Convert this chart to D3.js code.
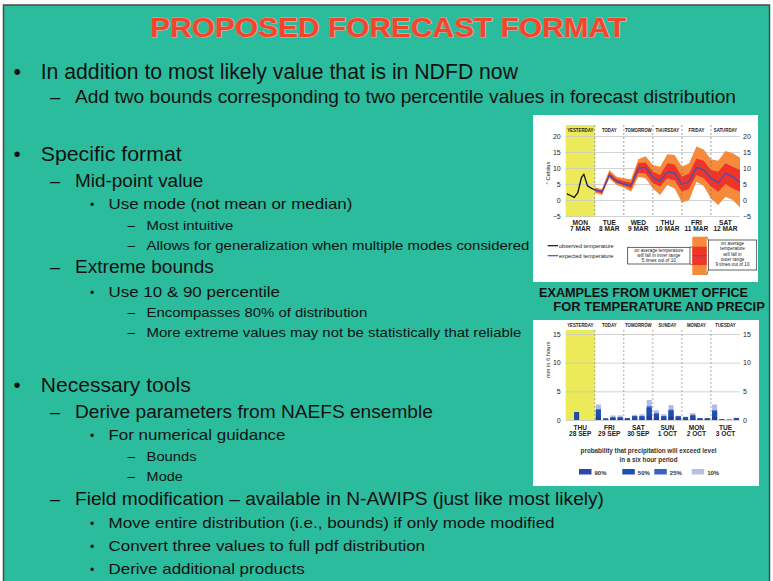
<!DOCTYPE html>
<html><head><meta charset="utf-8">
<script src="https://cdn.jsdelivr.net/npm/d3@7"></script>
<style>body{margin:0;background:#fff}svg{display:block}</style>
</head><body>
<svg id="c" width="773" height="581"></svg>
<script>
// ---------------- DATA ----------------
const slideTitle = "PROPOSED FORECAST FORMAT";
const bulletLevels = [1,2,1,2,3,4,4,2,3,4,4,1,2,3,4,4,2,3,3,3];
const bulletTexts = [
  "In addition to most likely value that is in NDFD now",
  "Add two bounds corresponding to two percentile values in forecast distribution",
  "Specific format",
  "Mid-point value",
  "Use mode (not mean or median)",
  "Most intuitive",
  "Allows for generalization when multiple modes considered",
  "Extreme bounds",
  "Use 10 & 90 percentile",
  "Encompasses 80% of distribution",
  "More extreme values may not be statistically that reliable",
  "Necessary tools",
  "Derive parameters from NAEFS ensemble",
  "For numerical guidance",
  "Bounds",
  "Mode",
  "Field modification \u2013 available in N-AWIPS (just like most likely)",
  "Move entire distribution (i.e., bounds) if only mode modified",
  "Convert three values to full pdf distribution",
  "Derive additional products"
];
const examplesCaption = ["EXAMPLES FROM UKMET OFFICE", "FOR TEMPERATURE AND PRECIP"];

// temperature chart
const tempHeaders = ["YESTERDAY","TODAY","TOMORROW","THURSDAY","FRIDAY","SATURDAY"];
const tempDays1 = ["MON","TUE","WED","THU","FRI","SAT"];
const tempDays2 = ["7 MAR","8 MAR","9 MAR","10 MAR","11 MAR","12 MAR"];
const tempTicks = [-5,0,5,10,15,20];
const obsHours = [1,4,7,10,13,15,18,21,24];
const obsTemp  = [1.9,1.4,0.8,2.3,7.0,8.0,4.4,3.7,3.2];
const fcHours   = [24,30,36,42,48,54,60,66,72,78,84,90,96,102,108,114,120,126,132,138,144];
const fcMode    = [3.1,2.6,7.8,5.8,5.0,4.5,9.9,10.2,7.0,5.9,8.8,8.5,4.9,5.7,10.2,9.4,6.8,5.4,8.3,7.3,5.5];
const fcInnerHi = [3.5,3.0,8.6,6.6,5.9,5.4,11.5,11.7,8.8,7.8,11.5,11.1,7.3,8.3,13.0,12.3,9.4,8.8,11.5,10.4,9.4];
const fcInnerLo = [2.8,2.0,7.2,5.3,4.5,3.6,8.4,8.3,5.2,4.2,6.8,6.2,2.6,3.6,7.8,6.8,4.2,2.6,5.0,3.6,2.6];
const fcOuterHi = [4.0,3.4,9.4,7.3,6.8,6.5,12.7,13.7,10.9,10.4,14.3,14.1,10.4,11.5,16.7,15.8,12.7,12.3,15.3,14.6,13.2];
const fcOuterLo = [2.3,1.6,6.8,4.7,3.9,2.6,7.3,6.8,3.6,1.6,4.7,3.6,-0.8,0.0,5.7,4.4,0.5,-1.6,1.0,0.0,-2.3];
const tempLegend = ["observed temperature","expected temperature"];
const innerNote = ["on average temperature","will fall in inner range","5 times out of 10"];
const outerNote = ["on average","temperature","will fall in","outer range","9 times out of 10"];

// precipitation chart
const pcpHeaders = ["YESTERDAY","TODAY","TOMORROW","SUNDAY","MONDAY","TUESDAY"];
const pcpDays1 = ["THU","FRI","SAT","SUN","MON","TUE"];
const pcpDays2 = ["28 SEP","29 SEP","30 SEP","1 OCT","2 OCT","3 OCT"];
const pcpTicks = [0,5,10,15];
const pcpObsHours = [9];
const pcpObs = [1.4];
const pcpHours = [27,33,39,45,51,57,63,69,75,81,87,93,99,105,111,117,123,129,135,141];
const pcp10 = [2.7,0.3,0.8,0.8,0.35,0.9,1.0,3.5,1.7,1.0,2.6,0.75,0.6,1.2,0.35,0.3,2.7,0.15,0.07,0.4];
const pcp25 = [1.9,0.3,0.5,0.5,0.3,0.7,0.7,2.4,1.2,0.7,1.8,0.65,0.5,0.9,0.3,0.3,1.7,0.12,0.05,0.35];
const pcp50 = [1.7,0.2,0.4,0.4,0.3,0.6,0.6,2.1,1.0,0.6,1.6,0.6,0.45,0.75,0.3,0.3,1.5,0.1,0.05,0.3];
const pcp90 = [0.6,0.1,0.2,0.2,0.1,0.2,0.2,0.8,0.4,0.2,0.6,0.2,0.15,0.3,0.1,0.1,0.5,0.05,0.02,0.1];
const pcpLegendLabels = ["90%","50%","25%","10%"];
const pcpNote = ["probability that precipitation will exceed level","in a six hour period"];

// ---------------- LAYOUT ----------------
const lineBaselines = [78.5,103,161,186.5,208.5,229.5,249.5,273,297,317,337,392,417.5,440,460.5,480.5,504.5,528,551,574];
const lineRights    = [518,736,181.7,203.4,352.4,233.4,529.3,213.8,280,367.2,521.4,190.7,432.8,285.5,196.6,182.8,604,554.6,425,304.7];
const levelX   = {1:40.7, 2:75, 3:108.5, 4:146.6};
const levelFs  = {1:20.5, 2:18, 3:15, 4:13.5};
const markX    = {1:13.5, 2:50, 3:90, 4:127.5};
const markChar = {1:"\u2022", 2:"\u2013", 3:"\u2022", 4:"\u2013"};
const FONT = "'Liberation Sans', Arial, Helvetica, sans-serif";
const TEAL = "#2bbc9d";

const svg = d3.select("#c");
svg.append("rect").attr("width",773).attr("height",581).attr("fill","#fff");
svg.append("rect").attr("x",3.5).attr("y",5).attr("width",766).attr("height",590)
   .attr("fill",TEAL).attr("stroke","#4a4a4a").attr("stroke-width",1.5);

// title
svg.append("text").attr("x",388).attr("y",37).attr("text-anchor","middle")
  .attr("font-family",FONT).attr("font-weight","bold").attr("font-size",28.5)
  .attr("fill","#f1462e").attr("stroke","#f6a48e").attr("stroke-width",1.1)
  .attr("paint-order","stroke").attr("textLength",476).attr("lengthAdjust","spacingAndGlyphs")
  .text(slideTitle);

// bullets
const tg = svg.append("g").attr("font-family",FONT).attr("fill","#111");
bulletTexts.forEach((t,i)=>{
  const lv = bulletLevels[i];
  let fs = levelFs[lv];
  if (i===0) fs = 21.5;
  if (i===1) fs = 18.5;
  const y = lineBaselines[i];
  tg.append("text").attr("x",markX[lv]).attr("y",y)
    .attr("font-size", lv===3 ? fs*0.8 : fs).text(markChar[lv]);
  tg.append("text").attr("x",levelX[lv]).attr("y",y).attr("font-size",fs)
    .attr("textLength", lineRights[i]-levelX[lv]).attr("lengthAdjust","spacingAndGlyphs")
    .text(t);
});

// examples caption
svg.append("text").attr("x",539).attr("y",296.7).attr("font-family",FONT).attr("font-weight","bold")
  .attr("font-size",13).attr("fill","#111").attr("textLength",209).attr("lengthAdjust","spacingAndGlyphs")
  .text(examplesCaption[0]);
svg.append("text").attr("x",553.3).attr("y",310.7).attr("font-family",FONT).attr("font-weight","bold")
  .attr("font-size",13).attr("fill","#111").attr("textLength",211.5).attr("lengthAdjust","spacingAndGlyphs")
  .text(examplesCaption[1]);

// panels
svg.append("rect").attr("x",533).attr("y",115).attr("width",225).attr("height",167).attr("fill","#fff");
svg.append("rect").attr("x",533).attr("y",320).attr("width",226).attr("height",166).attr("fill","#fff");

function condense(sel, f){
  sel.each(function(){ const L=this.getComputedTextLength(); d3.select(this).attr("textLength",L*f).attr("lengthAdjust","spacingAndGlyphs"); });
}

const x = d3.scaleLinear().domain([0,144]).range([565.7,740]);
const dayMid = d => 12 + 24*d;
const dayEdges = [24,48,72,96,120];

// ---------------- TEMPERATURE CHART ----------------
(function(){
  const yT = d3.scaleLinear().domain([-5,20]).range([216,136]);
  const top = 125, bot = 217;
  const g = svg.append("g");
  g.append("rect").attr("x",x(0)).attr("y",top).attr("width",x(24)-x(0)).attr("height",bot-top).attr("fill","#ecea58");
  // grid + axes
  const ax = g.append("g").attr("transform",`translate(${x(0)},0)`)
    .call(d3.axisLeft(yT).tickValues(tempTicks).tickSize(-(x(144)-x(0))).tickPadding(5));
  ax.select(".domain").remove();
  ax.selectAll(".tick line").attr("stroke","#c8c8c8").attr("stroke-width",0.8);
  ax.selectAll("text").attr("font-family",FONT).attr("font-size",7).attr("fill","#222");
  const axr = g.append("g").attr("transform",`translate(${x(144)},0)`)
    .call(d3.axisRight(yT).tickValues(tempTicks).tickSize(0).tickPadding(3));
  axr.select(".domain").remove();
  axr.selectAll("text").attr("font-family",FONT).attr("font-size",7).attr("fill","#222");
  // bands
  const idx = d3.range(fcHours.length);
  g.append("path").datum(idx).attr("fill","#f58a3a")
    .attr("d", d3.area().x(i=>x(fcHours[i])).y0(i=>yT(fcOuterLo[i])).y1(i=>yT(fcOuterHi[i])));
  g.append("path").datum(idx).attr("fill","#ee3527")
    .attr("d", d3.area().x(i=>x(fcHours[i])).y0(i=>yT(fcInnerLo[i])).y1(i=>yT(fcInnerHi[i])));
  // day dashed lines
  g.selectAll("line.dd").data(dayEdges).join("line").attr("class","dd")
    .attr("x1",d=>x(d)).attr("x2",d=>x(d)).attr("y1",top).attr("y2",bot)
    .attr("stroke","#777").attr("stroke-width",0.7).attr("stroke-dasharray","2,2");
  g.append("path").datum(idx).attr("fill","none").attr("stroke","#4050c4").attr("stroke-width",1.3)
    .attr("d", d3.line().x(i=>x(fcHours[i])).y(i=>yT(fcMode[i])));
  g.append("path").datum(d3.range(obsHours.length)).attr("fill","none").attr("stroke","#111").attr("stroke-width",1.3)
    .attr("d", d3.line().x(i=>x(obsHours[i])).y(i=>yT(obsTemp[i])));
  // headers
  g.selectAll("text.hd").data(tempHeaders).join("text").attr("class","hd")
    .attr("x",(d,i)=>x(dayMid(i))).attr("y",132).attr("text-anchor","middle")
    .attr("font-family",FONT).attr("font-weight","bold").attr("font-size",5.3).attr("fill","#222").text(d=>d)
    .call(condense,0.82);
  g.selectAll("text.d1").data(tempDays1).join("text").attr("class","d1")
    .attr("x",(d,i)=>x(dayMid(i))).attr("y",224.5).attr("text-anchor","middle")
    .attr("font-family",FONT).attr("font-weight","bold").attr("font-size",6.6).attr("fill","#222").text(d=>d);
  g.selectAll("text.d2").data(tempDays2).join("text").attr("class","d2")
    .attr("x",(d,i)=>x(dayMid(i))).attr("y",231).attr("text-anchor","middle")
    .attr("font-family",FONT).attr("font-weight","bold").attr("font-size",6.6).attr("fill","#222").text(d=>d);
  g.append("text").attr("transform","translate(550,173) rotate(-90)").attr("text-anchor","middle")
    .attr("font-family",FONT).attr("font-size",5.8).attr("fill","#222").text("\u00b0 Celsius");
  // legend
  const lc = ["#111","#4050c4"];
  tempLegend.forEach((t,i)=>{
    const yy = 245.7 + i*10;
    g.append("line").attr("x1",547.7).attr("x2",558).attr("y1",yy).attr("y2",yy).attr("stroke",lc[i]).attr("stroke-width",1.2);
    g.append("text").attr("x",559).attr("y",yy+2).attr("font-family",FONT).attr("font-size",5.6).attr("fill","#222").text(t);
  });
  g.append("rect").attr("x",627.7).attr("y",247.3).attr("width",62.3).attr("height",16.7).attr("fill","#fff").attr("stroke","#222").attr("stroke-width",0.7);
  innerNote.forEach((t,i)=>g.append("text").attr("x",658.8).attr("y",252+i*5).attr("text-anchor","middle")
    .attr("font-family",FONT).attr("font-size",4.6).attr("fill","#222").text(t));
  g.append("rect").attr("x",692.3).attr("y",236.7).attr("width",14.4).attr("height",38.3).attr("fill","#f58a3a");
  g.append("rect").attr("x",692.3).attr("y",246.7).attr("width",14.4).attr("height",18.3).attr("fill","#ee3527");
  g.append("line").attr("x1",692.3).attr("x2",706.7).attr("y1",255.7).attr("y2",255.7).attr("stroke","#4050c4").attr("stroke-width",1);
  g.append("line").attr("x1",690).attr("x2",692.3).attr("y1",247.3).attr("y2",246.7).attr("stroke","#222").attr("stroke-width",0.6);
  g.append("line").attr("x1",690).attr("x2",692.3).attr("y1",264).attr("y2",265).attr("stroke","#222").attr("stroke-width",0.6);
  g.append("rect").attr("x",708.3).attr("y",240).attr("width",48.4).attr("height",30).attr("fill","#fff").attr("stroke","#222").attr("stroke-width",0.7);
  g.append("line").attr("x1",706.7).attr("x2",708.3).attr("y1",236.7).attr("y2",240).attr("stroke","#222").attr("stroke-width",0.6);
  g.append("line").attr("x1",706.7).attr("x2",708.3).attr("y1",275).attr("y2",270).attr("stroke","#222").attr("stroke-width",0.6);
  outerNote.forEach((t,i)=>g.append("text").attr("x",732.5).attr("y",245+i*5.3).attr("text-anchor","middle")
    .attr("font-family",FONT).attr("font-size",4.6).attr("fill","#222").text(t));
})();

// ---------------- PRECIP CHART ----------------
(function(){
  const yP = d3.scaleLinear().domain([0,15]).range([420,334]);
  const top = 330, bot = 420.5;
  const g = svg.append("g");
  g.append("rect").attr("x",x(0)).attr("y",top).attr("width",x(24)-x(0)).attr("height",bot-top).attr("fill","#ecea58");
  const ax = g.append("g").attr("transform",`translate(${x(0)},0)`)
    .call(d3.axisLeft(yP).tickValues(pcpTicks).tickSize(-(x(144)-x(0))).tickPadding(5));
  ax.select(".domain").remove();
  ax.selectAll(".tick line").attr("stroke","#c8c8c8").attr("stroke-width",0.8);
  ax.selectAll("text").attr("font-family",FONT).attr("font-size",7).attr("fill","#222");
  const axr = g.append("g").attr("transform",`translate(${x(144)},0)`)
    .call(d3.axisRight(yP).tickValues(pcpTicks).tickSize(0).tickPadding(3));
  axr.select(".domain").remove();
  axr.selectAll("text").attr("font-family",FONT).attr("font-size",7).attr("fill","#222");
  g.selectAll("line.dd").data(dayEdges).join("line").attr("class","dd")
    .attr("x1",d=>x(d)).attr("x2",d=>x(d)).attr("y1",top).attr("y2",420)
    .attr("stroke","#888").attr("stroke-width",0.7).attr("stroke-dasharray","2,2");
  const bw = (x(6)-x(0))*0.7;
  const layers = [[pcp10,"#b3bbe4"],[pcp25,"#3f63c2"],[pcp50,"#1e4fb0"],[pcp90,"#203f9e"]];
  layers.forEach(([vals,col])=>{
    g.selectAll(null).data(pcpHours).join("rect")
      .attr("x",h=>x(h)-bw/2).attr("width",bw)
      .attr("y",(h,i)=>yP(vals[i])).attr("height",(h,i)=>yP(0)-yP(vals[i])).attr("fill",col);
  });
  g.selectAll(null).data(pcpObsHours).join("rect")
    .attr("x",h=>x(h)-bw/2).attr("width",bw)
    .attr("y",(h,i)=>yP(pcpObs[i])).attr("height",(h,i)=>yP(0)-yP(pcpObs[i])).attr("fill","#1e4aa8");
  g.selectAll("text.hd").data(pcpHeaders).join("text").attr("class","hd")
    .attr("x",(d,i)=>x(dayMid(i))).attr("y",327).attr("text-anchor","middle")
    .attr("font-family",FONT).attr("font-weight","bold").attr("font-size",5.3).attr("fill","#222").text(d=>d)
    .call(condense,0.82);
  g.selectAll("text.d1").data(pcpDays1).join("text").attr("class","d1")
    .attr("x",(d,i)=>x(dayMid(i))).attr("y",430).attr("text-anchor","middle")
    .attr("font-family",FONT).attr("font-weight","bold").attr("font-size",6.6).attr("fill","#222").text(d=>d);
  g.selectAll("text.d2").data(pcpDays2).join("text").attr("class","d2")
    .attr("x",(d,i)=>x(dayMid(i))).attr("y",436).attr("text-anchor","middle")
    .attr("font-family",FONT).attr("font-weight","bold").attr("font-size",6.6).attr("fill","#222").text(d=>d);
  g.append("text").attr("transform","translate(550,360) rotate(-90)").attr("text-anchor","middle")
    .attr("font-family",FONT).attr("font-size",5.8).attr("fill","#222").text("mm in 6 hours");
  pcpNote.forEach((t,i)=>g.append("text").attr("x",648.5).attr("y",453+i*9).attr("text-anchor","middle")
    .attr("font-family",FONT).attr("font-weight","bold").attr("font-size",6.3).attr("fill","#333").text(t));
  const swX = [579,622.3,654.3,691.7];
  const swC = ["#2a4aa8","#1d50b0","#3d63c0","#b8c0e6"];
  pcpLegendLabels.forEach((t,i)=>{
    g.append("rect").attr("x",swX[i]).attr("y",469).attr("width",12.5).attr("height",5.5).attr("fill",swC[i]);
    g.append("text").attr("x",swX[i]+15.5).attr("y",474.5).attr("font-family",FONT).attr("font-weight","bold")
      .attr("font-size",6).attr("fill","#333").text(t);
  });
})();
</script>
</body></html>
